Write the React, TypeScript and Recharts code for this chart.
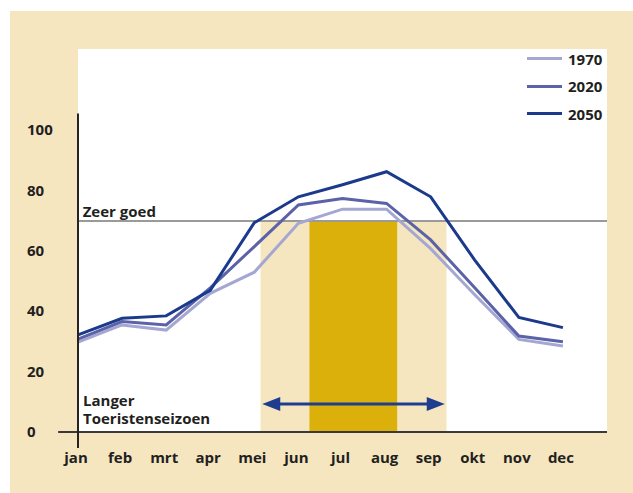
import { LineChart, Line, XAxis, YAxis, CartesianGrid, ReferenceArea, ReferenceLine, Legend } from "recharts"

const months = ["jan", "feb", "mrt", "apr", "mei", "jun", "jul", "aug", "sep", "okt", "nov", "dec"]
const y1970 = [29.8, 35.5, 33.8, 46, 53, 69.2, 73.9, 73.9, 60.8, 45.5, 30.7, 28.5]
const y2020 = [30.8, 36.6, 35.5, 47.8, 61.5, 75.3, 77.4, 75.8, 63.7, 47.8, 31.8, 29.9]
const y2050 = [32.2, 37.7, 38.5, 47, 69.4, 78, 82, 86.3, 78, 57, 38, 34.6]
const yTicks = [0, 20, 40, 60, 80, 100]

// thresholds / season bands in axis units
const zeerGoed = 70
const longSeason = [4.14, 8.36]
const peakSeason = [5.25, 7.24]
const arrowY = 9.3

const FONT = "'Open Sans', 'DejaVu Sans', sans-serif"
const INK = "#231f20"
const BEIGE = "#f5e6c0"

const data = months.map((m, i) => ({ idx: i, month: m, y1970: y1970[i], y2020: y2020[i], y2050: y2050[i] }))

const XTick = (props: any) => {
  const { x, y, payload } = props
  return (
    <text x={x - 2} y={y} dy={31} textAnchor="middle" fontSize={15} fontWeight={700} fill={INK} fontFamily={FONT}>
      {months[payload.value]}
    </text>
  )
}

const YTick = (props: any) => {
  const { y, payload } = props
  return (
    <text x={17} y={y} dy={5} textAnchor="start" fontSize={15} fontWeight={700} fill={INK} fontFamily={FONT}>
      {payload.value}
    </text>
  )
}

const ArrowShape = (props: any) => {
  const { x1, y1, x2 } = props
  const c = "#1f3d8f"
  return (
    <g>
      <line x1={x1 + 10} y1={y1} x2={x2 - 10} y2={y1} stroke={c} strokeWidth={3} />
      <polygon points={`${x1},${y1} ${x1 + 18},${y1 - 7} ${x1 + 18},${y1 + 7}`} fill={c} />
      <polygon points={`${x2},${y1} ${x2 - 18},${y1 - 7} ${x2 - 18},${y1 + 7}`} fill={c} />
    </g>
  )
}

const renderLegend = (props: any) => {
  const { payload } = props
  return (
    <div style={{ fontFamily: FONT }}>
      {payload.map((p: any) => (
        <div key={p.value} style={{ display: "flex", alignItems: "center", height: 27.5 }}>
          <span style={{ display: "inline-block", width: 35, height: 3, background: p.color, marginRight: 6 }} />
          <span style={{ fontSize: 15, fontWeight: 700, color: INK }}>{p.value}</span>
        </div>
      ))}
    </div>
  )
}

export default function App() {
  return (
    <div style={{ position: "absolute", left: 10, top: 11, width: 623, height: 482, background: BEIGE, fontFamily: FONT }}>
      <LineChart width={623} height={482} data={data} margin={{ top: 38, right: 26, bottom: 0, left: 0 }}>
        <CartesianGrid horizontal={false} vertical={false} fill="#ffffff" />
        <XAxis
          dataKey="idx"
          type="number"
          domain={[0, 12]}
          ticks={[0, 1, 2, 3, 4, 5, 6, 7, 8, 9, 10, 11]}
          axisLine={false}
          tickLine={false}
          tickSize={0}
          tickMargin={0}
          height={61}
          tick={<XTick />}
          interval={0}
        />
        <YAxis
          type="number"
          domain={[0, 127]}
          ticks={yTicks}
          axisLine={false}
          tickLine={false}
          width={68}
          tick={<YTick />}
          interval={0}
        />
        <ReferenceArea x1={longSeason[0]} x2={longSeason[1]} y1={0} y2={zeerGoed} fill={BEIGE} fillOpacity={1} stroke="none" />
        <ReferenceArea x1={peakSeason[0]} x2={peakSeason[1]} y1={0} y2={zeerGoed} fill="#dcb00a" fillOpacity={1} stroke="none" />
        <ReferenceLine
          y={zeerGoed}
          stroke="#9a9a9a"
          strokeWidth={2}
          label={(p: any) => (
            <text x={p.viewBox.x + 4.7} y={p.viewBox.y - 4.3} fontSize={15} fontWeight={700} fill={INK} fontFamily={FONT}>
              Zeer goed
            </text>
          )}
        />
        <ReferenceLine
          segment={[{ x: longSeason[0] + 0.04, y: arrowY }, { x: longSeason[1] - 0.04, y: arrowY }]}
          shape={<ArrowShape />}
          ifOverflow="visible"
        />
        <Legend
          layout="vertical"
          verticalAlign="middle"
          align="center"
          content={renderLegend}
          wrapperStyle={{ top: 34, left: 517, width: 100 }}
        />
        <Line type="linear" dataKey="y1970" name="1970" stroke="#a4a7d2" strokeWidth={3} dot={false} isAnimationActive={false} />
        <Line type="linear" dataKey="y2020" name="2020" stroke="#5b62a8" strokeWidth={3} dot={false} isAnimationActive={false} />
        <Line type="linear" dataKey="y2050" name="2050" stroke="#1b3a8c" strokeWidth={3} dot={false} isAnimationActive={false} />
        <ReferenceLine segment={[{ x: -0.45, y: 0 }, { x: 12, y: 0 }]} stroke="#3a3a3a" strokeWidth={2} ifOverflow="visible" />
        <ReferenceLine segment={[{ x: 0, y: -5.3 }, { x: 0, y: 105.6 }]} stroke="#2a2220" strokeWidth={2} ifOverflow="visible" />
      </LineChart>
      <div style={{ position: "absolute", left: 73, top: 380, fontSize: 15, fontWeight: 700, color: INK, lineHeight: "18px" }}>
        Langer
        <br />
        Toeristenseizoen
      </div>
    </div>
  )
}
